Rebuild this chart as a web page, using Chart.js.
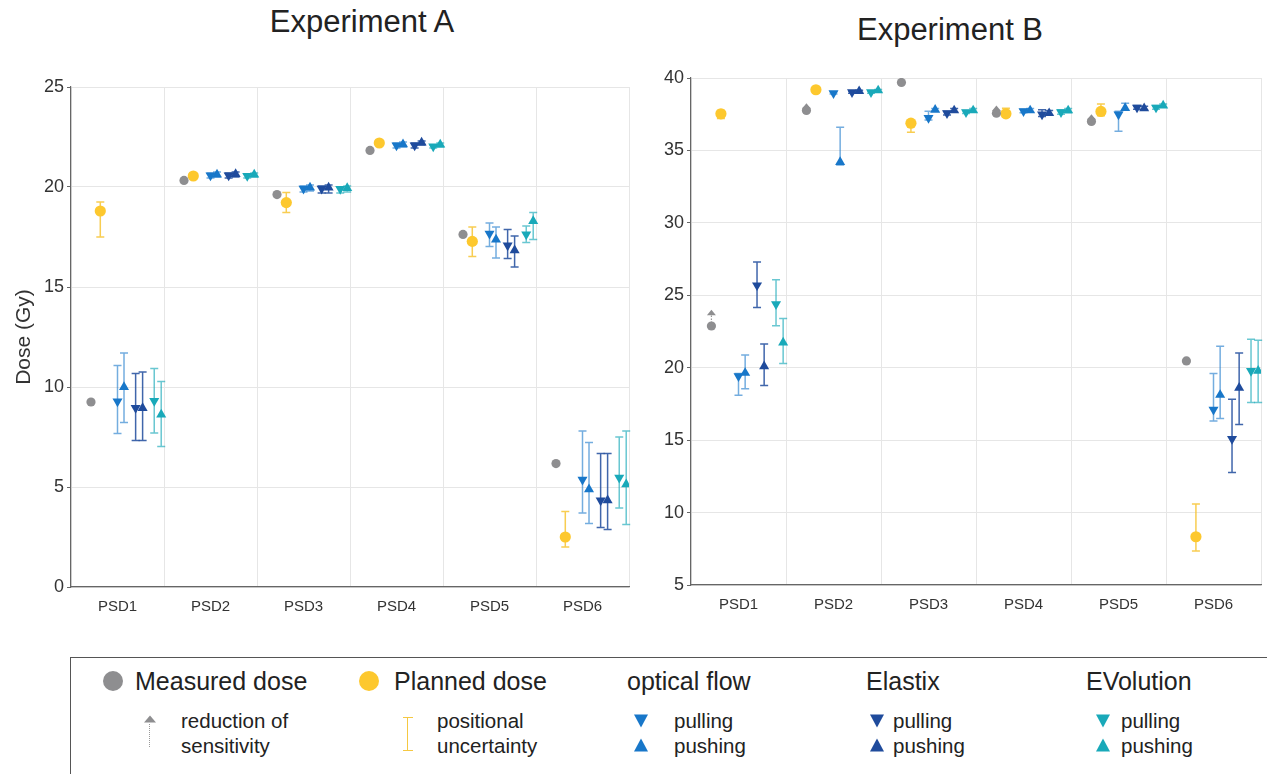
<!DOCTYPE html>
<html lang="en">
<head>
    <meta charset="UTF-8">
    <title>Experiment A / Experiment B</title>
    <script src="https://cdn.jsdelivr.net/npm/chart.js@4.4.1/dist/chart.umd.min.js"></script>
    <style>
        body {
            margin: 0;
            width: 1267px;
            height: 774px;
            background: #fff;
            font-family: "Liberation Sans", Arial, sans-serif;
            color: #222;
            position: relative;
            overflow: hidden;
        }
        .box { position: absolute; }
        .title { font-size: 31px; transform: translate(-50%, -50%); white-space: nowrap; }
        #legend {
            position: absolute;
            left: 70px; top: 657px; width: 1197px; height: 117px;
            border-top: 1.5px solid #555;
            border-left: 1.5px solid #555;
        }
        .big { position: absolute; font-size: 25px; transform: translateY(-50%); white-space: nowrap; }
        .small { position: absolute; font-size: 20.5px; transform: translateY(-50%); white-space: nowrap; }
        .dot { position: absolute; width: 20px; height: 20px; border-radius: 50%; transform: translate(-50%, -50%); }
        .tri { position: absolute; width: 0; height: 0; transform: translate(-50%, -50%);
               border-left: 7px solid transparent; border-right: 7px solid transparent; }
        .down { border-top: 13px solid; }
        .up { border-bottom: 13px solid; }
    </style>
</head>
<body>
    <div class="box title" style="left:362px; top:22px;">Experiment A</div>
    <div class="box title" style="left:950px; top:30px;">Experiment B</div>

    <canvas id="chartA" class="box" style="left:0; top:0;"></canvas>
    <canvas id="chartB" class="box" style="left:640px; top:0;"></canvas>

    <div id="legend"></div>
    <div class="dot" style="left:113px; top:681px; background:#8e8e90;"></div>
    <div class="big" style="left:135px; top:681px;">Measured dose</div>
    <div class="dot" style="left:369px; top:681px; background:#fdc82e;"></div>
    <div class="big" style="left:394px; top:681px;">Planned dose</div>
    <div class="big" style="left:627px; top:681px;">optical flow</div>
    <div class="big" style="left:866px; top:681px;">Elastix</div>
    <div class="big" style="left:1086px; top:681px;">EVolution</div>

    <div class="tri up" style="left:150px; top:719px; border-left-width:6px; border-right-width:6px; border-bottom-width:7px; border-bottom-color:#8e8e90;"></div>
    <div class="box" style="left:149px; top:724px; height:23px; border-left:1.5px dotted #999;"></div>
    <div class="small" style="left:181px; top:721px;">reduction of</div>
    <div class="small" style="left:181px; top:746px;">sensitivity</div>

    <div class="box" style="left:403px; top:717px; width:10px; height:32px; border-top:1.5px solid #f5c842; border-bottom:1.5px solid #f5c842;"></div>
    <div class="box" style="left:407px; top:717px; height:33px; border-left:1.5px solid #f5c842;"></div>
    <div class="small" style="left:437px; top:721px;">positional</div>
    <div class="small" style="left:437px; top:746px;">uncertainty</div>

    <div class="tri down" style="left:641px; top:721px; color:#1877c9;"></div>
    <div class="tri up" style="left:641px; top:745px; color:#1877c9;"></div>
    <div class="small" style="left:674px; top:721px;">pulling</div>
    <div class="small" style="left:674px; top:746px;">pushing</div>

    <div class="tri down" style="left:877px; top:721px; color:#1f4b9c;"></div>
    <div class="tri up" style="left:877px; top:745px; color:#1f4b9c;"></div>
    <div class="small" style="left:893px; top:721px;">pulling</div>
    <div class="small" style="left:893px; top:746px;">pushing</div>

    <div class="tri down" style="left:1103px; top:721px; color:#19a9b9;"></div>
    <div class="tri up" style="left:1103px; top:745px; color:#19a9b9;"></div>
    <div class="small" style="left:1121px; top:721px;">pulling</div>
    <div class="small" style="left:1121px; top:746px;">pushing</div>

    <script>
        const categories = ["PSD1", "PSD2", "PSD3", "PSD4", "PSD5", "PSD6"];

        // Experiment A (Gy)
        const measuredA = [9.25, 20.33, 19.62, 21.83, 17.63, 6.17];
        const plannedA = [18.8, 20.55, 19.22, 22.2, 17.28, 2.5];
        const plannedErrA = [[17.5, 19.25], [20.45, 20.65], [18.72, 19.72], [22.1, 22.3], [16.53, 18.0], [2.0, 3.78]];
        const ofPullA = [9.28, 20.58, 19.92, 22.08, 17.67, 5.37];
        const ofPullErrA = [[7.68, 11.08], [20.45, 20.7], [19.75, 20.05], [21.95, 22.2], [17.03, 18.2], [3.7, 7.8]];
        const ofPushA = [10.0, 20.62, 19.97, 22.13, 17.37, 4.88];
        const ofPushErrA = [[8.22, 11.7], [20.5, 20.75], [19.8, 20.1], [22.0, 22.25], [16.45, 18.0], [3.17, 7.22]];
        const elPullA = [8.95, 20.58, 19.92, 22.08, 17.08, 4.33];
        const elPullErrA = [[7.32, 10.67], [20.45, 20.7], [19.7, 20.05], [21.95, 22.2], [16.42, 17.87], [2.97, 6.67]];
        const elPushA = [8.95, 20.65, 19.97, 22.22, 16.83, 4.33];
        const elPushErrA = [[7.32, 10.75], [20.5, 20.75], [19.7, 20.1], [22.1, 22.3], [16.0, 17.55], [2.88, 6.67]];
        const evPullA = [9.3, 20.55, 19.9, 22.03, 17.63, 5.47];
        const evPullErrA = [[7.7, 10.92], [20.45, 20.65], [19.7, 20.0], [21.95, 22.1], [17.22, 18.05], [3.95, 7.5]];
        const evPushA = [8.62, 20.62, 19.95, 22.12, 18.3, 5.13];
        const evPushErrA = [[7.02, 10.28], [20.5, 20.7], [19.75, 20.05], [22.0, 22.2], [17.38, 18.72], [3.12, 7.8]];

        // Experiment B (Gy)
        const measuredB = [22.88, 37.76, 39.69, 37.57, 37.0, 20.47];
        const sensitivityB = [24.0, 38.25, null, 38.1, 37.5, null];
        const plannedB = [37.53, 39.19, 36.88, 37.53, 37.69, 8.33];
        const plannedErrB = [[37.2, 37.75], [39.1, 39.3], [36.26, 37.0], [37.3, 37.92], [37.4, 38.2], [7.34, 10.6]];
        const ofPullB = [19.41, 38.95, 37.25, 37.71, 37.48, 17.11];
        const ofPullErrB = [[18.1, 19.6], [38.9, 39.05], [37.1, 37.71], [37.6, 37.85], [36.33, 37.7], [16.33, 19.6]];
        const ofPushB = [19.64, 34.2, 37.8, 37.76, 37.92, 18.12];
        const ofPushErrB = [[18.55, 20.88], [34.0, 36.6], [37.7, 37.9], [37.65, 37.9], [37.8, 38.26], [16.5, 21.48]];
        const elPullB = [25.69, 39.02, 37.57, 37.48, 37.96, 15.08];
        const elPullErrB = [[24.15, 27.3], [38.95, 39.1], [37.45, 37.7], [37.35, 37.8], [37.85, 38.1], [12.77, 17.83]];
        const elPushB = [20.1, 39.09, 37.76, 37.57, 37.9, 18.61];
        const elPushErrB = [[18.77, 21.64], [39.0, 39.15], [37.65, 37.9], [37.45, 37.75], [37.8, 38.05], [16.08, 21.02]];
        const evPullB = [24.38, 39.02, 37.64, 37.64, 37.96, 19.78];
        const evPullErrB = [[22.9, 26.08], [38.95, 39.1], [37.55, 37.75], [37.5, 37.8], [37.85, 38.1], [17.6, 21.97]];
        const evPushB = [21.74, 39.14, 37.76, 37.76, 38.1, 19.78];
        const evPushErrB = [[20.29, 23.4], [39.05, 39.2], [37.65, 37.9], [37.6, 37.9], [38.0, 38.2], [17.6, 21.9]];

        const yTicksA = [0, 5, 10, 15, 20, 25];
        const yTicksB = [5, 10, 15, 20, 25, 30, 35, 40];

        // dodge offsets inside each PSD group (category units)
        const dodge = { measured: -0.285, planned: -0.185, ofPull: 0, ofPush: 0.07, elPull: 0.195, elPush: 0.27, evPull: 0.395, evPush: 0.47 };

        const styles = {
            measured: { color: "#8e8e90", shape: "circle", r: 4.6 },
            planned: { color: "#fdc82e", shape: "circle", r: 5.6, err: "rgba(247,196,50,0.85)" },
            ofPull: { color: "#1877c9", shape: "triangle", rot: 180, r: 5.8, err: "rgba(24,119,201,0.6)" },
            ofPush: { color: "#1877c9", shape: "triangle", rot: 0, r: 5.8, err: "rgba(24,119,201,0.6)" },
            elPull: { color: "#1f4b9c", shape: "triangle", rot: 180, r: 5.8, err: "rgba(31,75,156,0.85)" },
            elPush: { color: "#1f4b9c", shape: "triangle", rot: 0, r: 5.8, err: "rgba(31,75,156,0.85)" },
            evPull: { color: "#19a9b9", shape: "triangle", rot: 180, r: 5.8, err: "rgba(25,169,185,0.65)" },
            evPush: { color: "#19a9b9", shape: "triangle", rot: 0, r: 5.8, err: "rgba(25,169,185,0.65)" }
        };

        function makeSet(key, label, values, errs, arrows) {
            const st = styles[key];
            return {
                label: label,
                data: values.map((v, i) => ({ x: i + 1 + dodge[key], y: v })),
                errors: errs || null,
                errorColor: st.err,
                arrows: arrows || null,
                pointStyle: st.shape,
                pointRotation: st.rot || 0,
                pointRadius: st.r,
                pointHoverRadius: st.r,
                pointBackgroundColor: st.color,
                pointBorderWidth: 0,
                showLine: false
            };
        }

        const errorBars = {
            id: "errorBars",
            beforeDatasetsDraw(chart) {
                const ctx = chart.ctx;
                const x = chart.scales.x, y = chart.scales.y;
                chart.data.datasets.forEach(ds => {
                    if (ds.errors) {
                        ctx.save();
                        ctx.strokeStyle = ds.errorColor;
                        ctx.lineWidth = 1.5;
                        ds.data.forEach((p, j) => {
                            const e = ds.errors[j];
                            const px = x.getPixelForValue(p.x);
                            const lo = y.getPixelForValue(e[0]);
                            const hi = y.getPixelForValue(e[1]);
                            ctx.beginPath();
                            ctx.moveTo(px, lo); ctx.lineTo(px, hi);
                            ctx.moveTo(px - 4, lo); ctx.lineTo(px + 4, lo);
                            ctx.moveTo(px - 4, hi); ctx.lineTo(px + 4, hi);
                            ctx.stroke();
                        });
                        ctx.restore();
                    }
                    if (ds.arrows) {
                        ctx.save();
                        ds.data.forEach((p, j) => {
                            const tip = ds.arrows[j];
                            if (tip === null) return;
                            const px = x.getPixelForValue(p.x);
                            const py = y.getPixelForValue(p.y);
                            const pt = y.getPixelForValue(tip);
                            ctx.strokeStyle = "#999";
                            ctx.lineWidth = 1.2;
                            ctx.setLineDash([1.5, 1.5]);
                            ctx.beginPath();
                            ctx.moveTo(px, py);
                            ctx.lineTo(px, pt + 5);
                            ctx.stroke();
                            ctx.setLineDash([]);
                            ctx.fillStyle = "#8e8e90";
                            ctx.beginPath();
                            ctx.moveTo(px, pt);
                            ctx.lineTo(px + 4.5, pt + 5.5);
                            ctx.lineTo(px - 4.5, pt + 5.5);
                            ctx.closePath();
                            ctx.fill();
                        });
                        ctx.restore();
                    }
                });
            }
        };

        const font = "'Liberation Sans', Arial, sans-serif";

        function buildChart(id, w, h, datasets, yTicks, yTitle, yWidth, xHeight, padding) {
            const canvas = document.getElementById(id);
            canvas.style.width = w + "px";
            canvas.style.height = h + "px";
            return new Chart(canvas, {
                type: "scatter",
                data: { datasets: datasets },
                plugins: [errorBars],
                options: {
                    responsive: false,
                    maintainAspectRatio: false,
                    animation: false,
                    layout: { padding: padding },
                    plugins: { legend: { display: false }, tooltip: { enabled: false } },
                    scales: {
                        x: {
                            type: "linear",
                            min: 0.5,
                            max: 6.5,
                            afterBuildTicks: s => { s.ticks = categories.map((c, i) => ({ value: i + 1 })); },
                            afterFit: s => { s.height = xHeight; },
                            grid: { offset: true, color: "#e6e6e6", drawTicks: false },
                            border: { color: "#666", width: 1.2 },
                            ticks: {
                                autoSkip: false, maxRotation: 0, padding: 11,
                                color: "#333", font: { family: font, size: 15 },
                                callback: v => categories[v - 1]
                            }
                        },
                        y: {
                            min: yTicks[0],
                            max: yTicks[yTicks.length - 1],
                            afterBuildTicks: s => { s.ticks = yTicks.map(v => ({ value: v })); },
                            afterFit: s => { s.width = yWidth; },
                            grid: { color: "#e6e6e6", tickLength: 4, tickColor: "#666" },
                            border: { color: "#666", width: 1.2 },
                            ticks: { padding: 3, color: "#333", font: { family: font, size: 18 } },
                            title: {
                                display: !!yTitle, text: yTitle, color: "#333",
                                font: { family: font, size: 21 }, padding: { top: 0, bottom: 0 }
                            }
                        }
                    }
                }
            });
        }

        buildChart("chartA", 640, 640, [
            makeSet("measured", "Measured dose", measuredA),
            makeSet("planned", "Planned dose", plannedA, plannedErrA),
            makeSet("ofPull", "optical flow pulling", ofPullA, ofPullErrA),
            makeSet("ofPush", "optical flow pushing", ofPushA, ofPushErrA),
            makeSet("elPull", "Elastix pulling", elPullA, elPullErrA),
            makeSet("elPush", "Elastix pushing", elPushA, elPushErrA),
            makeSet("evPull", "EVolution pulling", evPullA, evPullErrA),
            makeSet("evPush", "EVolution pushing", evPushA, evPushErrA)
        ], yTicksA, "Dose (Gy)", 59, 53, { top: 87, left: 12, right: 11, bottom: 0 });

        buildChart("chartB", 627, 640, [
            makeSet("measured", "Measured dose", measuredB, null, sensitivityB),
            makeSet("planned", "Planned dose", plannedB, plannedErrB),
            makeSet("ofPull", "optical flow pulling", ofPullB, ofPullErrB),
            makeSet("ofPush", "optical flow pushing", ofPushB, ofPushErrB),
            makeSet("elPull", "Elastix pulling", elPullB, elPullErrB),
            makeSet("elPush", "Elastix pushing", elPushB, elPushErrB),
            makeSet("evPull", "EVolution pulling", evPullB, evPullErrB),
            makeSet("evPush", "EVolution pushing", evPushB, evPushErrB)
        ], yTicksB, "", 51, 55, { top: 78, left: 0, right: 6, bottom: 0 });
    </script>
</body>
</html>
